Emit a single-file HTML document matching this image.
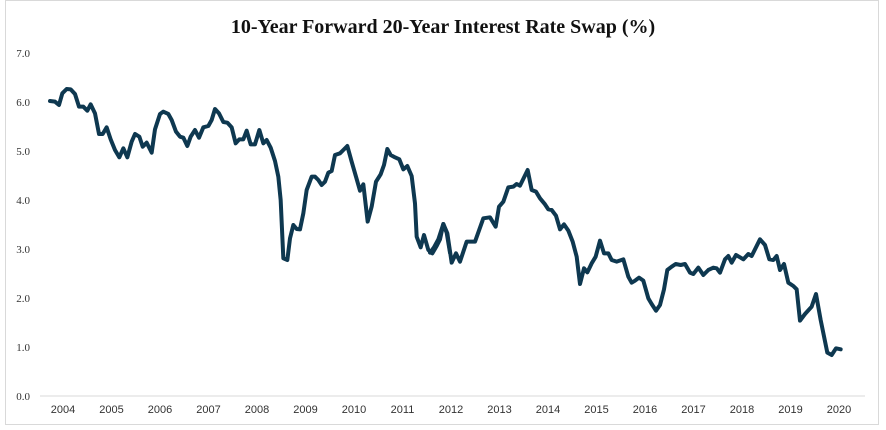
<!DOCTYPE html>
<html><head><meta charset="utf-8"><style>
body{margin:0;background:#fff;}
svg{display:block;}
</style></head><body>
<svg width="886" height="430" xmlns="http://www.w3.org/2000/svg">
<rect x="5.5" y="0.5" width="873" height="424" fill="#fff" stroke="#d9d9d9"/>
<text x="443" y="33" text-anchor="middle" font-family="Liberation Serif, serif" font-weight="bold" font-size="20" fill="#111">10-Year Forward 20-Year Interest Rate Swap (%)</text>
<g font-family="Liberation Serif, serif" font-size="11" fill="#333" text-anchor="end">
<text x="30" y="57">7.0</text><text x="30" y="106">6.0</text><text x="30" y="155">5.0</text><text x="30" y="204">4.0</text><text x="30" y="253">3.0</text><text x="30" y="302">2.0</text><text x="30" y="351">1.0</text><text x="30" y="400">0.0</text>
</g>
<line x1="40" y1="396" x2="865" y2="396" stroke="#d9d9d9" stroke-width="1"/>
<g font-family="Liberation Sans, sans-serif" font-size="11" fill="#333" text-anchor="middle">
<text x="63" y="413">2004</text><text x="111.5" y="413">2005</text><text x="160" y="413">2006</text><text x="208.5" y="413">2007</text><text x="257" y="413">2008</text><text x="305.5" y="413">2009</text><text x="354" y="413">2010</text><text x="402.5" y="413">2011</text><text x="451" y="413">2012</text><text x="499.5" y="413">2013</text><text x="548" y="413">2014</text><text x="596.5" y="413">2015</text><text x="645" y="413">2016</text><text x="693.5" y="413">2017</text><text x="742" y="413">2018</text><text x="790.5" y="413">2019</text><text x="839" y="413">2020</text>
</g>
<g fill="none" stroke="#0e3850" stroke-width="4" stroke-linejoin="round" stroke-linecap="round">
<polyline transform="translate(0,40) scale(0.33333)" vector-effect="non-scaling-stroke" points="150,183 165,185 177,195 187,160 200,147 212,148 225,162 237,200 250,200 262,212 272,193 285,220 297,282 308,282 320,262 332,298 345,330 358,352 370,325 382,352 395,305 405,282 418,290 428,320 440,308 455,338 465,268 480,222 490,215 505,222 515,240 528,275 540,290 550,293 562,318 572,290 585,270 597,293 610,262 625,258 635,240 645,207 657,220 670,246 682,248 695,262 707,310 718,298 730,298 740,272 752,313 765,313 778,270 790,310 800,300 812,323 825,363 835,410 842,480 850,655 862,660 870,595 880,555 890,567 900,568 910,520 920,450 935,410 945,410 955,420 965,435 975,425 985,398 995,393 1005,345 1020,340 1030,330 1042,318 1055,365 1068,410 1080,452 1090,433 1103,545 1115,500 1128,425 1142,403 1152,375 1162,327 1172,345 1185,352 1198,358 1210,388 1222,378 1235,408 1245,490 1250,590 1262,622 1272,585 1285,630 1297,640 1310,618 1320,598 1330,552 1340,578 1350,638"/>
<polyline transform="translate(430,40) scale(0.33333)" vector-effect="non-scaling-stroke" points="0,638 12,622 25,598 40,552 52,580 65,668 78,640 90,665 110,605 135,605 160,535 180,532 197,560 207,500 220,485 235,442 250,440 260,432 270,437 293,390 305,450 318,455 330,475 345,493 355,508 365,510 378,527 390,568 402,553 415,572 428,605 440,650 450,732 462,685 472,697 485,670 497,650 510,602 522,640 535,640 545,660 560,665 580,658 595,710 605,728 615,722 627,713 640,722 655,775 665,792 678,812 690,795 702,748 712,690 725,680 737,672 752,675 765,672 780,698 790,702 805,683 820,705 835,690 850,683 860,685 870,698 885,658 895,648 905,668 918,645 930,652 940,658 955,642 965,648 990,598 1005,615 1018,658 1030,660 1040,648 1050,690 1062,672 1075,728 1090,738 1100,748 1110,842 1125,822 1145,800 1158,762 1172,840 1192,938 1205,945 1218,925 1232,928"/>
</g>
</svg>
</body></html>
